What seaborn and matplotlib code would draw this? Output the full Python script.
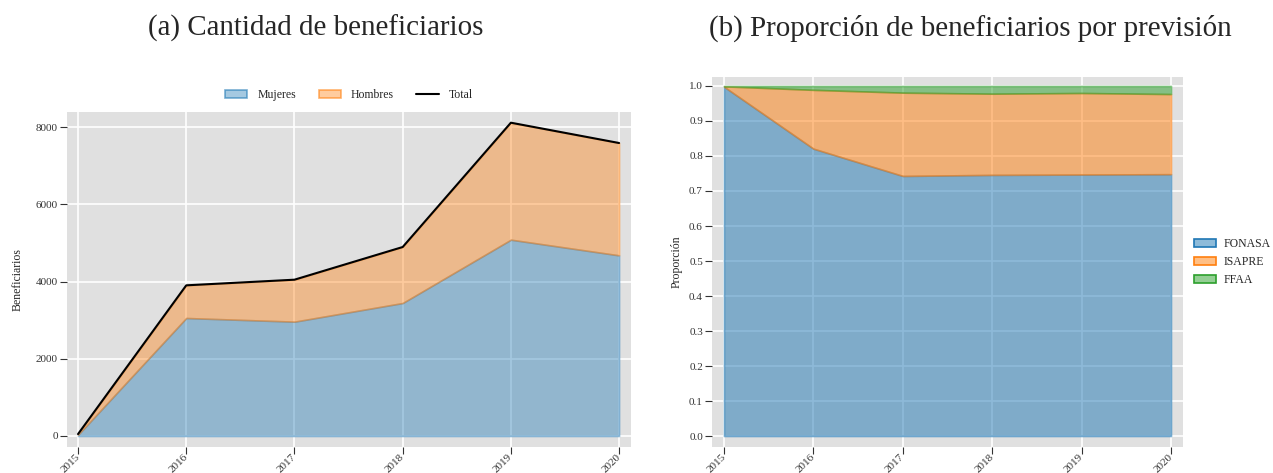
import matplotlib
matplotlib.use("Agg")
import matplotlib.pyplot as plt
import seaborn as sns
import pandas as pd
import numpy as np
from matplotlib.patches import Patch
from matplotlib.lines import Line2D

years = [2015, 2016, 2017, 2018, 2019, 2020]
mujeres = [30, 3055, 2960, 3443, 5083, 4677]
hombres = [20, 846, 1087, 1450, 3029, 2909]
fonasa = [0.998, 0.821, 0.743, 0.746, 0.747, 0.748]
isapre = [0.001, 0.168, 0.238, 0.232, 0.233, 0.229]
ffaa = [0.001, 0.011, 0.019, 0.022, 0.020, 0.023]

sns.set_theme(style="darkgrid", rc={
    "xtick.bottom": True, "ytick.left": True,
    "xtick.major.size": 5, "ytick.major.size": 5,
    "xtick.major.width": 0.8, "ytick.major.width": 0.8,
    "xtick.color": "#333333", "ytick.color": "#333333",
    "xtick.direction": "out", "ytick.direction": "out",
})
plt.rcParams["font.family"] = ["Liberation Serif", "DejaVu Serif"]
plt.rcParams["axes.facecolor"] = "#E0E0E0"
plt.rcParams["grid.color"] = "white"
plt.rcParams["grid.linewidth"] = 1.2

blue = "#1f77b4"
orange = "#ff7f0e"
green = "#2ca02c"

fig = plt.figure(figsize=(12.73, 4.73), dpi=100)
W, H = 1273, 473
axL = fig.add_axes([67 / W, (H - 447) / H, (631 - 67) / W, (447 - 112) / H])
axR = fig.add_axes([712 / W, (H - 447) / H, (1183 - 712) / W, (447 - 77) / H])

df = pd.DataFrame({"year": years, "Mujeres": mujeres, "Hombres": hombres})
df["Total"] = df["Mujeres"] + df["Hombres"]

# left panel
axL.fill_between(df["year"], 0, df["Mujeres"], facecolor=blue, edgecolor=blue,
                 alpha=0.4, lw=1.2)
axL.fill_between(df["year"], df["Mujeres"], df["Total"], facecolor=orange,
                 edgecolor=orange, alpha=0.4, lw=1.2)
sns.lineplot(data=df, x="year", y="Total", ax=axL, color="black", lw=1.5)
axL.set_xlim(2014.898, 2020.11)
axL.set_ylim(-285, 8389)
axL.set_yticks([0, 2000, 4000, 6000, 8000])
axL.set_xticks(years)
axL.set_xlabel("")
axL.set_ylabel("Beneficiarios", fontsize=8.5, labelpad=9)
hL = [Patch(facecolor=(0.12, 0.47, 0.71, 0.4), edgecolor=(0.12, 0.47, 0.71, 0.6), lw=1.2),
      Patch(facecolor=(1.0, 0.5, 0.05, 0.4), edgecolor=(1.0, 0.5, 0.05, 0.6), lw=1.2),
      Line2D([0], [0], color="black", lw=1.5)]
axL.legend(hL, ["Mujeres", "Hombres", "Total"], loc="lower center",
           bbox_to_anchor=(0.5, 1.0), ncol=3, frameon=False, fontsize=8.5,
           handlelength=1.9, columnspacing=1.9, handletextpad=0.85)

# right panel
dfp = pd.DataFrame({"year": years, "FONASA": fonasa, "ISAPRE": isapre, "FFAA": ffaa})
c1 = dfp["FONASA"]
c2 = c1 + dfp["ISAPRE"]
c3 = c2 + dfp["FFAA"]
axR.fill_between(dfp["year"], 0, c1, facecolor=blue, edgecolor=blue, alpha=0.5, lw=1.2)
axR.fill_between(dfp["year"], c1, c2, facecolor=orange, edgecolor=orange, alpha=0.5, lw=1.2)
axR.fill_between(dfp["year"], c2, c3, facecolor=green, edgecolor=green, alpha=0.5, lw=1.2)
axR.set_xlim(2014.866, 2020.134)
axR.set_ylim(-0.0314, 1.0257)
ticks_r = np.round(np.arange(0, 1.01, 0.1), 1)
axR.set_yticks(ticks_r)
axR.set_yticklabels([f"{v:.1f}" for v in ticks_r])
axR.set_xticks(years)
axR.set_ylabel("Proporción", fontsize=8.5, labelpad=5)
hR = [Patch(facecolor=(0.12, 0.47, 0.71, 0.5), edgecolor=blue, lw=1.2),
      Patch(facecolor=(1.0, 0.5, 0.05, 0.5), edgecolor=orange, lw=1.2),
      Patch(facecolor=(0.17, 0.63, 0.17, 0.5), edgecolor=green, lw=1.2)]
axR.legend(hR, ["FONASA", "ISAPRE", "FFAA"], loc="center left",
           bbox_to_anchor=(1.0, 0.5), frameon=False, fontsize=8.5,
           handlelength=1.9, handletextpad=0.6)

for ax in (axL, axR):
    for s in ax.spines.values():
        s.set_visible(False)
    ax.tick_params(axis="both", which="major", length=5, width=0.8,
                   color="#333333", labelsize=8, pad=1.5,
                   bottom=True, left=True)
    ax.tick_params(axis="x", pad=1)
    for lab in ax.get_xticklabels():
        lab.set_rotation(45)
        lab.set_ha("right")
        lab.set_va("center")
        lab.set_rotation_mode("anchor")
    ax.grid(True, color="white", lw=1.2)

fig.text(316 / W, 1 - 28 / H, "(a) Cantidad de beneficiarios", ha="center",
         va="center", fontsize=20.9)
fig.text(970 / W, 1 - 28 / H, "(b) Proporción de beneficiarios por previsión",
         ha="center", va="center", fontsize=20.9)

fig.savefig("out.png", dpi=100)
